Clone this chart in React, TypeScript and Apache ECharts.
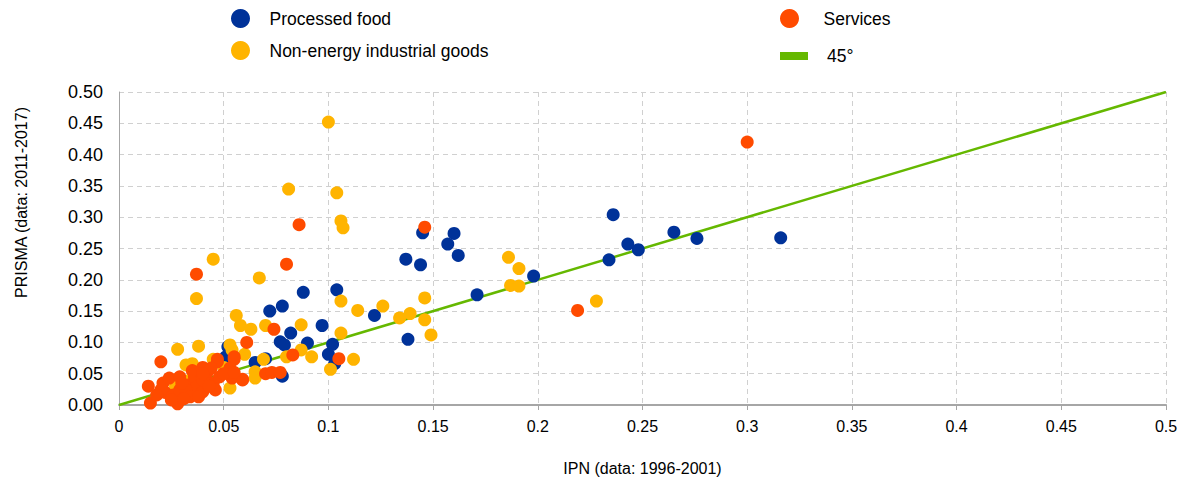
import React, { useEffect, useRef } from "react";
import * as echarts from "echarts";

// [IPN (1996-2001), PRISMA (2011-2017)]
const processedFood: number[][] = [
  [0.316, 0.267], [0.276, 0.266], [0.265, 0.276], [0.248, 0.248], [0.243, 0.257],
  [0.236, 0.304], [0.234, 0.232], [0.198, 0.206], [0.171, 0.176], [0.162, 0.239],
  [0.160, 0.274], [0.157, 0.257], [0.145, 0.275], [0.144, 0.224], [0.137, 0.233],
  [0.138, 0.105], [0.122, 0.143], [0.104, 0.184], [0.088, 0.180], [0.078, 0.158],
  [0.072, 0.150], [0.097, 0.127], [0.082, 0.115], [0.090, 0.099], [0.077, 0.101],
  [0.079, 0.096], [0.102, 0.097], [0.100, 0.081], [0.103, 0.066], [0.065, 0.068],
  [0.070, 0.074], [0.078, 0.046], [0.052, 0.093], [0.051, 0.077],
];

const nonEnergyGoods: number[][] = [
  [0.100, 0.452], [0.081, 0.345], [0.104, 0.339], [0.106, 0.294], [0.107, 0.283],
  [0.045, 0.233], [0.067, 0.203], [0.037, 0.170], [0.186, 0.236], [0.191, 0.218],
  [0.187, 0.191], [0.191, 0.190], [0.228, 0.166], [0.146, 0.171], [0.106, 0.166],
  [0.114, 0.151], [0.126, 0.158], [0.134, 0.139], [0.139, 0.146], [0.146, 0.136],
  [0.149, 0.112], [0.106, 0.115], [0.056, 0.143], [0.058, 0.127], [0.063, 0.121],
  [0.070, 0.127], [0.087, 0.128], [0.053, 0.096], [0.054, 0.088], [0.060, 0.081],
  [0.087, 0.088], [0.092, 0.077], [0.080, 0.077], [0.069, 0.073], [0.112, 0.073],
  [0.101, 0.057], [0.065, 0.053], [0.065, 0.043], [0.053, 0.027], [0.028, 0.089],
  [0.038, 0.094], [0.032, 0.064], [0.035, 0.066], [0.045, 0.073], [0.034, 0.040],
  [0.050, 0.060], [0.027, 0.030],
];

const services: number[][] = [
  [0.300, 0.420], [0.219, 0.151], [0.146, 0.284], [0.086, 0.288], [0.080, 0.225],
  [0.037, 0.209], [0.074, 0.121], [0.061, 0.100], [0.083, 0.080], [0.105, 0.074],
  [0.070, 0.050], [0.073, 0.052], [0.077, 0.052], [0.059, 0.041], [0.047, 0.073],
  [0.055, 0.073], [0.020, 0.069], [0.040, 0.060], [0.047, 0.069], [0.014, 0.030],
  [0.015, 0.003], [0.028, 0.002], [0.021, 0.035], [0.024, 0.043], [0.029, 0.045],
  [0.022, 0.020], [0.026, 0.016], [0.029, 0.024], [0.033, 0.032], [0.036, 0.045],
  [0.037, 0.029], [0.040, 0.021], [0.042, 0.051], [0.045, 0.035], [0.046, 0.024],
  [0.044, 0.059], [0.048, 0.045], [0.032, 0.024], [0.034, 0.013], [0.038, 0.013],
  [0.053, 0.059], [0.054, 0.043], [0.055, 0.077], [0.059, 0.040], [0.020, 0.024],
  [0.018, 0.016], [0.030, 0.035], [0.040, 0.040], [0.035, 0.055], [0.025, 0.008],
  [0.031, 0.010], [0.043, 0.030], [0.050, 0.050], [0.055, 0.052], [0.040, 0.050],
];

const diagonal45: number[][] = [[0, 0], [0.5, 0.5]];

const seriesNames = ["Processed food", "Non-energy industrial goods", "Services", "45°"];
const xAxisTitle = "IPN (data: 1996-2001)";
const yAxisTitle = "PRISMA (data: 2011-2017)";

const BLUE = "#003299";
const YELLOW = "#FFB400";
const ORANGE = "#FF4B00";
const GREEN = "#65B800";
const FONT = "Liberation Sans, Arial, sans-serif";

export default function App() {
  const ref = useRef<HTMLDivElement>(null);

  useEffect(() => {
    document.body.style.margin = "0";
    if (!ref.current) return;
    const chart = echarts.init(ref.current, undefined, { renderer: "svg" });
    const legendText = { fontSize: 17.5, color: "#000", fontFamily: FONT };
    chart.setOption({
      animation: false,
      textStyle: { fontFamily: FONT },
      grid: { left: 119, right: 20, top: 92, bottom: 76, containLabel: false },
      legend: [
        {
          left: 226, top: 4, orient: "vertical", itemWidth: 48, itemHeight: 19, itemGap: 13,
          textStyle: legendText,
          data: [
            { name: seriesNames[0], icon: "circle" },
            { name: seriesNames[1], icon: "circle" },
          ],
        },
        {
          left: 775, top: 4, itemWidth: 58, itemHeight: 19,
          textStyle: legendText,
          data: [{ name: seriesNames[2], icon: "circle" }],
        },
        {
          left: 775, top: 42, itemWidth: 56, itemHeight: 8, symbolKeepAspect: true,
          textStyle: legendText,
          data: [{ name: seriesNames[3], icon: "path://M0,0H28V8H0Z" }],
        },
      ],
      xAxis: {
        type: "value", min: 0, max: 0.5, interval: 0.05,
        name: xAxisTitle, nameLocation: "middle", nameGap: 55,
        nameTextStyle: { fontSize: 16, color: "#000", fontFamily: FONT },
        axisLine: { show: true, lineStyle: { color: "#a6a6a6", width: 2 } },
        axisTick: { show: true, length: 5, lineStyle: { color: "#a6a6a6" } },
        axisLabel: { fontSize: 16, color: "#000", margin: 13, fontFamily: FONT },
        splitLine: { show: true, lineStyle: { color: "#d0d0d0", type: [5, 4], width: 1 } },
      },
      yAxis: {
        type: "value", min: 0, max: 0.5, interval: 0.05,
        name: yAxisTitle, nameLocation: "middle", nameGap: 90, nameRotate: 90,
        nameTextStyle: { fontSize: 16, color: "#000", fontFamily: FONT, padding: [0, 0, 0, 92] },
        axisLine: { show: true, lineStyle: { color: "#a6a6a6", width: 1 } },
        axisTick: { show: false },
        axisLabel: {
          fontSize: 18, color: "#000", margin: 16, fontFamily: FONT,
          formatter: (v: number) => v.toFixed(2),
        },
        splitLine: { show: true, lineStyle: { color: "#d0d0d0", type: [5, 4], width: 1 } },
      },
      series: [
        {
          name: seriesNames[3], type: "line", data: diagonal45, showSymbol: false, symbol: "none",
          lineStyle: { color: GREEN, width: 2.5 }, itemStyle: { color: GREEN }, z: 1,
        },
        {
          name: seriesNames[0], type: "scatter", data: processedFood, symbolSize: 13,
          itemStyle: { color: BLUE, opacity: 1 }, z: 2,
        },
        {
          name: seriesNames[1], type: "scatter", data: nonEnergyGoods, symbolSize: 13,
          itemStyle: { color: YELLOW, opacity: 1 }, z: 3,
        },
        {
          name: seriesNames[2], type: "scatter", data: services, symbolSize: 13,
          itemStyle: { color: ORANGE, opacity: 1 }, z: 4,
        },
      ],
    });
    return () => chart.dispose();
  }, []);

  return <div ref={ref} style={{ width: 1186, height: 481 }} />;
}
